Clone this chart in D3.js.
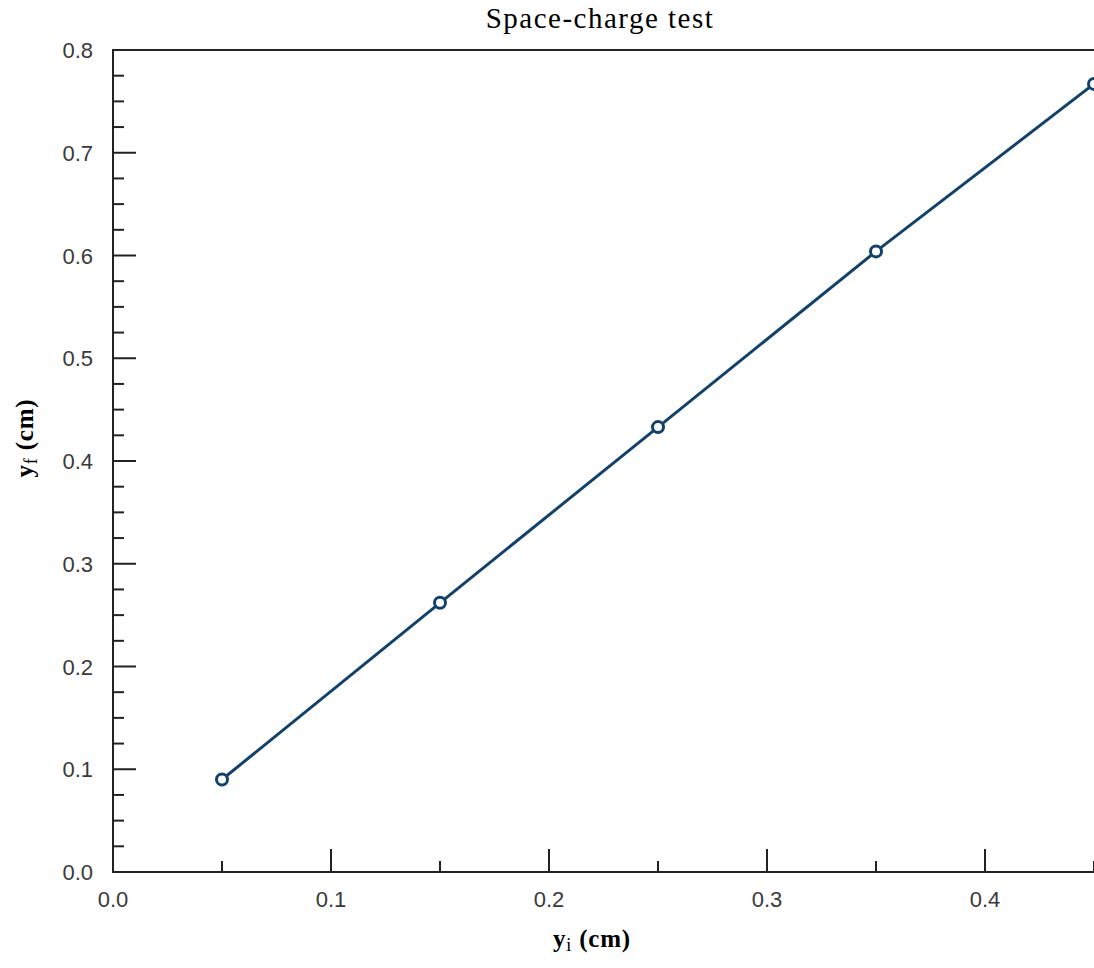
<!DOCTYPE html>
<html>
<head>
<meta charset="utf-8">
<script src="https://cdn.jsdelivr.net/npm/d3@7"></script>
<style>
  body { margin: 0; background: #fff; }
  .tick-label { font-family: "Liberation Sans", Arial, sans-serif; font-size: 22px; fill: #3a3a3a; }
  .serif { font-family: "Liberation Serif", "Times New Roman", serif; fill: #000; }
</style>
</head>
<body>
<svg id="drawing_region"></svg>
<script>
const yi = [0.05, 0.15, 0.25, 0.35, 0.45];
const yf = [0.090, 0.262, 0.433, 0.604, 0.767];
const xTicks = [0.0, 0.1, 0.2, 0.3, 0.4];
const yTicks = [0.0, 0.1, 0.2, 0.3, 0.4, 0.5, 0.6, 0.7, 0.8];

const width = 1094, height = 968;
const plotLeft = 113, plotRight = 1094, plotTop = 50, plotBottom = 872;

const svg = d3.select("#drawing_region")
    .attr("width", width)
    .attr("height", height);

const x = d3.scaleLinear().domain([0, 0.45]).range([plotLeft, plotRight]);
const y = d3.scaleLinear().domain([0, 0.8]).range([plotBottom, plotTop]);

// frame (left, bottom, top)
svg.append("path")
    .attr("d", `M${plotRight},${plotTop}H${plotLeft}V${plotBottom}H${plotRight}`)
    .attr("fill", "none")
    .attr("stroke", "#222")
    .attr("stroke-width", 2);

// y ticks: major every 0.1, minor every 0.025
const yMinor = d3.range(0, 33).map(i => i * 0.025);
svg.append("g").selectAll("line")
    .data(yMinor)
    .join("line")
    .attr("x1", plotLeft)
    .attr("x2", (d, i) => plotLeft + (i % 4 === 0 ? 23 : 11))
    .attr("y1", d => y(d))
    .attr("y2", d => y(d))
    .attr("stroke", "#222")
    .attr("stroke-width", 2);

svg.append("g").selectAll("text")
    .data(yTicks)
    .join("text")
    .attr("class", "tick-label")
    .attr("x", 93)
    .attr("y", d => y(d) + 8)
    .attr("text-anchor", "end")
    .text(d => d.toFixed(1));

// x ticks: major every 0.1, minor at 0.05
const xMinor = d3.range(0, 10).map(i => i * 0.05);
svg.append("g").selectAll("line")
    .data(xMinor)
    .join("line")
    .attr("x1", d => x(d))
    .attr("x2", d => x(d))
    .attr("y1", plotBottom)
    .attr("y2", (d, i) => plotBottom - (i % 2 === 0 ? 23 : 11))
    .attr("stroke", "#222")
    .attr("stroke-width", 2);

svg.append("g").selectAll("text")
    .data(xTicks)
    .join("text")
    .attr("class", "tick-label")
    .attr("x", d => x(d))
    .attr("y", 907)
    .attr("text-anchor", "middle")
    .text(d => d.toFixed(1));

// line and markers
const pts = yi.map((v, i) => [v, yf[i]]);
svg.append("path")
    .datum(pts)
    .attr("fill", "none")
    .attr("stroke", "#12426b")
    .attr("stroke-width", 3)
    .attr("d", d3.line().x(d => x(d[0])).y(d => y(d[1])));

svg.append("g").selectAll("circle")
    .data(pts)
    .join("circle")
    .attr("cx", d => x(d[0]))
    .attr("cy", d => y(d[1]))
    .attr("r", 5.5)
    .attr("fill", "#fff")
    .attr("stroke", "#12426b")
    .attr("stroke-width", 3);

// title
svg.append("text")
    .attr("class", "serif")
    .attr("x", 600)
    .attr("y", 28)
    .attr("text-anchor", "middle")
    .attr("font-size", 29)
    .attr("letter-spacing", 1.5)
    .text("Space-charge test");

// x label
const xl = svg.append("text")
    .attr("class", "serif")
    .attr("x", 592)
    .attr("y", 947)
    .attr("text-anchor", "middle")
    .attr("font-size", 25)
    .attr("font-weight", "bold")
    .attr("letter-spacing", 0.8);
xl.append("tspan").text("y");
xl.append("tspan").attr("dy", 4).attr("font-size", 18).attr("font-weight", "normal").text("i");
xl.append("tspan").attr("dy", -4).text(" (cm)");

// y label
const yl = svg.append("text")
    .attr("class", "serif")
    .attr("transform", "translate(33,438) rotate(-90)")
    .attr("text-anchor", "middle")
    .attr("font-size", 25)
    .attr("font-weight", "bold")
    .attr("letter-spacing", 0.8);
yl.append("tspan").text("y");
yl.append("tspan").attr("dy", 4).attr("font-size", 18).attr("font-weight", "normal").text("f");
yl.append("tspan").attr("dy", -4).text(" (cm)");
</script>
</body>
</html>
